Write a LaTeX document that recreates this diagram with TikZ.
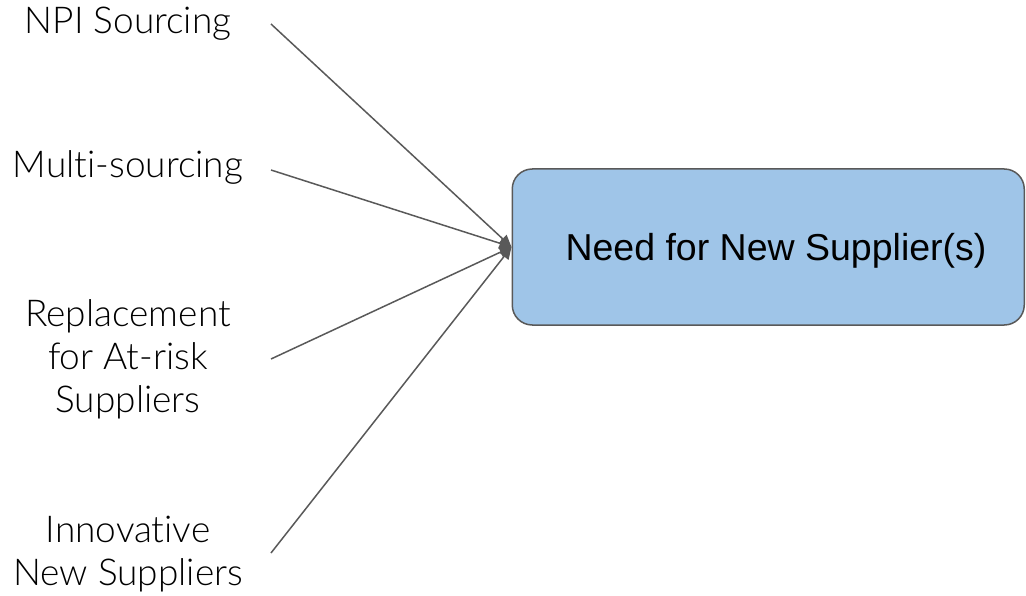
\documentclass[tikz,border=0pt]{standalone}
\usepackage{fontspec}
\setmainfont{Liberation Sans}
\newfontfamily\lightfont{Lato}[UprightFont=* Light, RawFeature={-liga;-dlig}]
\usetikzlibrary{arrows.meta}
\definecolor{edgegray}{HTML}{595959}
\definecolor{boxblue}{HTML}{9FC5E8}
\begin{document}
\begin{tikzpicture}[x=1pt,y=-1pt,
  lbl/.style={font=\lightfont\fontsize{37}{43}\selectfont, align=center, inner sep=0pt, text=black},
  target/.style={draw=edgegray, fill=boxblue, line width=1.5pt, rounded corners=20pt, inner sep=0pt},
  conn/.style={draw=edgegray, line width=1.5pt, -{Triangle[length=12pt,width=11pt]}}]
\useasboundingbox (0,0) rectangle (1026,596);
\node[target, minimum width=512pt, minimum height=156pt] (box) at (768.25,247) {};
\node[font=\fontsize{37.5}{44}\selectfont, inner sep=0pt, anchor=base] (boxtxt) at (776,261) {Need for New Supplier(s)};
\node[lbl, anchor=base] (npi) at (128,34) {NPI Sourcing};
\node[lbl, anchor=base] (multi) at (128,178) {Multi-sourcing};
\node[lbl, anchor=north] (repl) at (128,299) {Replacement\\for At-risk\\Suppliers};
\node[lbl, anchor=north] (innov) at (128,516) {Innovative\\New Suppliers};
\coordinate (s1) at (271,24);
\coordinate (s2) at (271,170);
\coordinate (s3) at (271,359);
\coordinate (s4) at (271,553);
\draw[conn] (s1) -- (box.west);
\draw[conn] (s2) -- (box.west);
\draw[conn] (s3) -- (box.west);
\draw[conn] (s4) -- (box.west);
\end{tikzpicture}
\end{document}
